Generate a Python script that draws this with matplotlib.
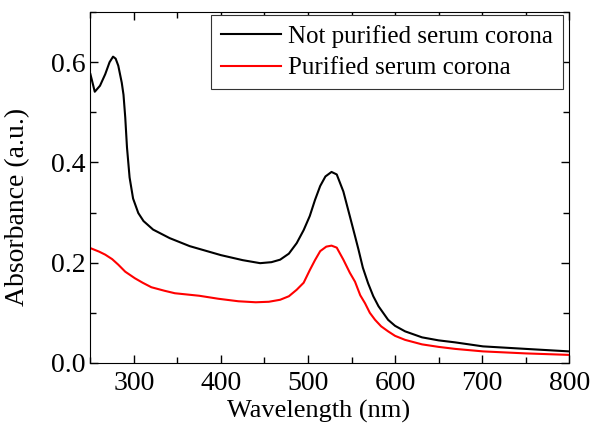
import numpy as np
import matplotlib
matplotlib.use("Agg")
import matplotlib.pyplot as plt
from matplotlib.ticker import MultipleLocator

plt.rcParams['font.family'] = ['Liberation Serif', 'DejaVu Serif']

# black curve: not purified serum corona
wl_black = [250, 255, 261, 267, 272, 276, 279, 282, 286, 288, 290, 292, 295, 299,
            305, 311, 322, 341, 364, 400, 425, 445, 458, 468, 478, 487, 495, 502,
            508, 514, 520, 527, 533, 540.6, 548, 554, 558, 563, 569, 575, 581, 592,
            600, 611.5, 631, 650, 669, 701, 750, 800]
abs_black = [0.576, 0.541, 0.553, 0.576, 0.600, 0.611, 0.607, 0.593, 0.559, 0.535,
             0.49, 0.43, 0.37, 0.328, 0.299, 0.283, 0.266, 0.249, 0.233, 0.215,
             0.205, 0.199, 0.201, 0.206, 0.218, 0.239, 0.265, 0.293, 0.325, 0.353,
             0.372, 0.381, 0.376, 0.342, 0.293, 0.253, 0.226, 0.19, 0.159, 0.133,
             0.113, 0.086, 0.074, 0.063, 0.051, 0.045, 0.041, 0.033, 0.028, 0.023]

# red curve: purified serum corona
wl_red = [250, 260, 267, 275, 282, 290, 301, 310, 320, 335, 347, 375, 397, 420,
          440, 455, 468, 478, 487, 495, 502, 508, 514, 521, 527, 533, 540.6, 548,
          554, 560, 565.5, 571, 577, 584, 592, 600, 611.5, 631, 650, 669, 701,
          750, 800]
abs_red = [0.229, 0.222, 0.216, 0.207, 0.196, 0.182, 0.169, 0.160, 0.151, 0.144,
           0.139, 0.134, 0.128, 0.123, 0.121, 0.122, 0.126, 0.133, 0.146, 0.160,
           0.185, 0.205, 0.223, 0.232, 0.234, 0.230, 0.206, 0.180, 0.162, 0.135,
           0.119, 0.100, 0.086, 0.073, 0.063, 0.054, 0.046, 0.037, 0.032, 0.028,
           0.023, 0.019, 0.016]

labels = ['Not purified serum corona', 'Purified serum corona']

fig = plt.figure(figsize=(5.91, 4.30), dpi=100)
ax = fig.add_axes([0.153, 0.156, 0.810, 0.816])

ax.plot(wl_black, abs_black, color='black', lw=1.5, label=labels[0])
ax.plot(wl_red, abs_red, color='red', lw=1.5, label=labels[1])

ax.set_xlim(250, 800)
ax.set_ylim(0, 0.7)
ax.xaxis.set_major_locator(MultipleLocator(100))
ax.xaxis.set_minor_locator(MultipleLocator(50))
ax.yaxis.set_major_locator(MultipleLocator(0.2))
ax.yaxis.set_minor_locator(MultipleLocator(0.1))
ax.tick_params(which='both', direction='in', top=True, right=True, labelsize=20)
ax.tick_params(which='major', length=6, width=1)
ax.tick_params(which='minor', length=4, width=1)
ax.tick_params(axis='x', pad=6)
ax.set_xticks([300, 400, 500, 600, 700, 800])
ax.set_yticks([0.0, 0.2, 0.4, 0.6])
ax.set_yticklabels(['0.0', '0.2', '0.4', '0.6'])

ax.set_xlabel('Wavelength (nm)', fontsize=19, labelpad=0)
ax.set_ylabel('Absorbance (a.u.)', fontsize=20)
ax.xaxis.set_label_coords(0.476, -0.105)
ax.yaxis.set_label_coords(-0.125, 0.444)

leg = ax.legend(loc='upper right', fontsize=18, frameon=True, fancybox=False,
                edgecolor='#333333', framealpha=1, handlelength=2.4,
                borderaxespad=0, labelspacing=0.35, handletextpad=0.3,
                borderpad=0.4, bbox_to_anchor=(0.9875, 0.991))
leg.get_frame().set_linewidth(0.8)

fig.savefig('out.png', dpi=100)
